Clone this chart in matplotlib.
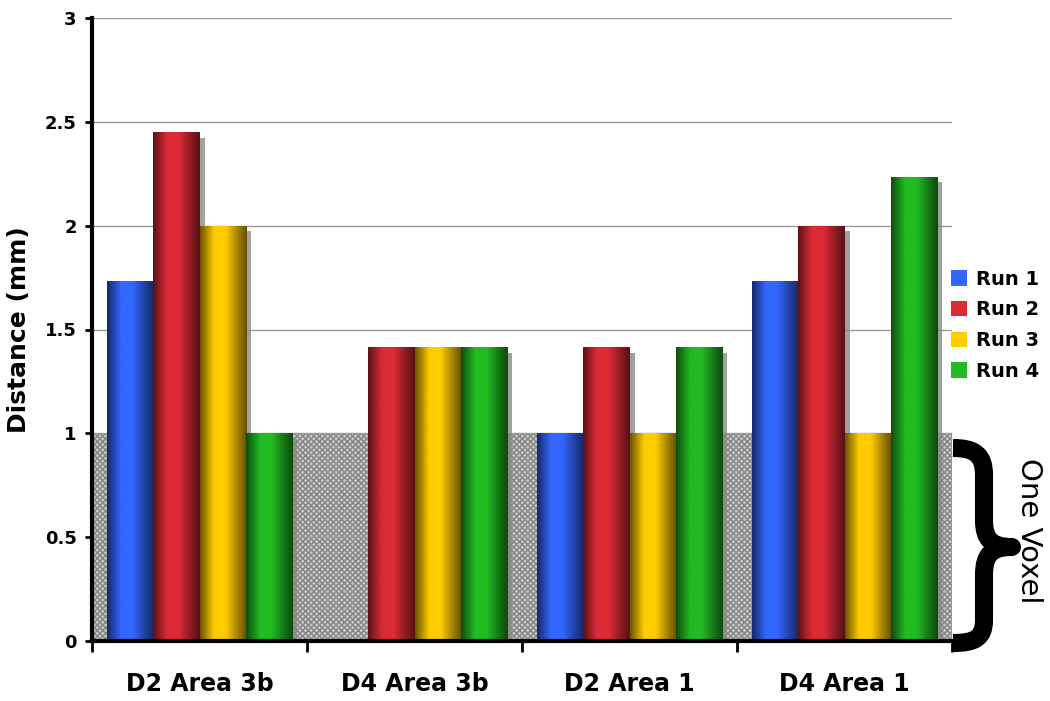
import numpy as np
import matplotlib
matplotlib.use("Agg")
import matplotlib.pyplot as plt
import matplotlib.patheffects as pe
from matplotlib.patches import Patch, PathPatch
from matplotlib.path import Path
from matplotlib.colors import to_rgb

# data
categories = ["D2 Area 3b", "D4 Area 3b", "D2 Area 1", "D4 Area 1"]
runs = ["Run 1", "Run 2", "Run 3", "Run 4"]
run1 = [1.732, 0.0, 1.0, 1.732]
run2 = [2.449, 1.414, 1.414, 2.0]
run3 = [2.0, 1.414, 1.0, 1.0]
run4 = [1.0, 1.414, 1.414, 2.236]
voxel = 1.0

colors = ["#3366ff", "#dd2a35", "#ffcc00", "#22bb22"]

W, H = 1050, 701
fig = plt.figure(figsize=(W / 100, H / 100), dpi=100)
ax = fig.add_axes([92 / W, 1 - 641 / H, 860 / W, 623 / H])

x = np.arange(len(categories))
w = 0.214
ax.set_xlim(-0.5, 3.5)
ax.set_ylim(0, 3)

# one voxel band
ax.axhspan(0, voxel, facecolor="#c8c8c8", edgecolor="#858585", hatch="xxxxxx",
           linewidth=0, zorder=0.5)

ax.yaxis.grid(True, color="#9a9a9a", linewidth=1)
ax.set_axisbelow(True)

# cylinder-ish shading across a bar
t = np.linspace(0, 1, 64)
prof = np.interp(t, [0, 0.12, 0.3, 0.55, 0.8, 1], [0.42, 0.65, 1.0, 1.0, 0.65, 0.4])

for i, vals in enumerate([run1, run2, run3, run4]):
    bars = ax.bar(x + (i - 1.5) * w, vals, w, color=colors[i], linewidth=0, zorder=2,
                  path_effects=[pe.SimplePatchShadow(offset=(4, -4), shadow_rgbFace="#888888", alpha=0.8),
                                pe.Normal()])
    grad = np.clip(np.array(to_rgb(colors[i]))[None, None, :] * prof[None, :, None], 0, 1)
    for b in bars:
        if b.get_height() <= 0:
            continue
        im = ax.imshow(grad, extent=(b.get_x(), b.get_x() + b.get_width(), 0, b.get_height()),
                       aspect="auto", interpolation="bilinear", zorder=2.1)
        im.set_clip_path(b)

ax.spines["top"].set_visible(False)
ax.spines["right"].set_visible(False)
ax.spines["left"].set_linewidth(3)
ax.spines["bottom"].set_linewidth(3)

ax.set_yticks(np.arange(0, 3.01, 0.5))
ax.set_yticklabels(["0", "0.5", "1", "1.5", "2", "2.5", "3"], fontweight="bold", fontsize=13)
ax.tick_params(axis="y", length=5, width=2, direction="out", pad=6)

ax.set_xticks([-0.5, 0.5, 1.5, 2.5, 3.5])
ax.set_xticklabels([])
ax.tick_params(axis="x", which="major", length=8, width=2, direction="out")
ax.set_xticks(x, minor=True)
ax.set_xticklabels(categories, minor=True, fontweight="bold", fontsize=17)
ax.tick_params(axis="x", which="minor", length=0, pad=22)

ax.set_ylabel("Distance (mm)", fontweight="bold", fontsize=18, labelpad=10)

handles = [Patch(facecolor=c, edgecolor="none") for c in colors]
fig.legend(handles, runs, loc="center left", bbox_to_anchor=(0.889, 0.536),
           frameon=False, prop={"weight": "bold", "size": 14},
           handlelength=0.85, handleheight=0.85, handletextpad=0.45, labelspacing=0.6)

# brace for one voxel (pixel coords, y from top)
pts = [(953, 448), (975, 448), (984, 455), (984, 475), (984, 520),
       (984, 540), (992, 547), (1012, 547), (992, 547), (984, 554), (984, 575),
       (984, 620), (984, 638), (975, 643), (953, 643)]
codes = [Path.MOVETO, Path.CURVE4, Path.CURVE4, Path.CURVE4, Path.LINETO,
         Path.CURVE4, Path.CURVE4, Path.CURVE4, Path.CURVE4, Path.CURVE4, Path.CURVE4,
         Path.LINETO, Path.CURVE4, Path.CURVE4, Path.CURVE4]
verts = [(px / W, 1 - py / H) for px, py in pts]
fig.patches.append(PathPatch(Path(verts, codes), transform=fig.transFigure, fill=False,
                             edgecolor="black", linewidth=13, capstyle="butt", joinstyle="round"))
fig.text(1029 / W, 1 - 531 / H, "One Voxel", fontsize=21, rotation=-90, ha="center", va="center")

fig.savefig("out.png", dpi=100)
